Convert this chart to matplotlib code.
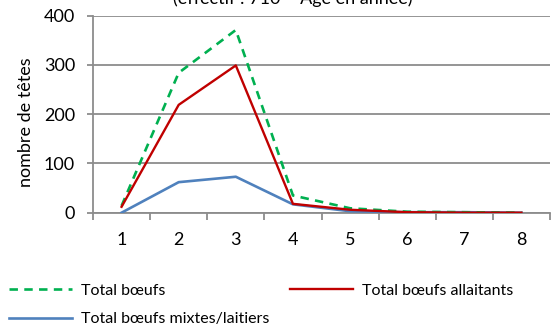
import matplotlib.pyplot as plt
from matplotlib.ticker import FixedLocator, NullFormatter

plt.rcParams['font.family'] = ['Lato', 'DejaVu Sans']

# age in years, head counts per class
ages = [1, 2, 3, 4, 5, 6, 7, 8]
total_boeufs = [14, 284, 371, 35, 9, 2, 1, 0]
boeufs_allaitants = [12, 219, 299, 18, 6, 1, 0, 0]
boeufs_mixtes = [0, 62, 73, 17, 3, 1, 1, 0]
y_ticks = [0, 100, 200, 300, 400]

grey = '#8c8c8c'

fig = plt.figure(figsize=(5.52, 3.27), dpi=100)
ax = fig.add_axes([93 / 552, 1 - 212.7 / 327, 457 / 552, 197 / 327])

ax.plot(ages, total_boeufs, color='#00b050', lw=1.9, dashes=(3.2, 2.4),
        label='Total bœufs', zorder=3)
ax.plot(ages, boeufs_mixtes, color='#4f81bd', lw=1.9,
        label='Total bœufs mixtes/laitiers', zorder=2)
ax.plot(ages, boeufs_allaitants, color='#c00000', lw=1.7,
        label='Total bœufs allaitants', zorder=4)

ax.set_xlim(0.5, 8.5)
ax.set_ylim(0, 400)
ax.set_yticks(y_ticks)
ax.set_xticks(ages)
ax.xaxis.set_minor_locator(FixedLocator([a + 0.5 for a in [0] + ages]))
ax.xaxis.set_minor_formatter(NullFormatter())
ax.tick_params(axis='x', which='major', length=0, pad=14, labelsize=13)
ax.tick_params(axis='x', which='minor', length=5, width=1.3, color=grey)
ax.tick_params(axis='y', length=4, width=1.3, color=grey, pad=9, labelsize=13)

ax.grid(axis='y', color=grey, lw=1.3)
ax.set_axisbelow(True)
for side in ['top', 'right']:
    ax.spines[side].set_visible(False)
for side in ['left', 'bottom']:
    ax.spines[side].set_color(grey)
    ax.spines[side].set_linewidth(1.3)
ax.spines['bottom'].set_zorder(1)

fig.text(26 / 552, 1 - 122 / 327, 'nombre de têtes', rotation=90,
         ha='center', va='center', fontsize=13)
fig.text(293 / 552, 1 - 7 / 327, '(effectif : 710 – Âge en année)',
         ha='center', va='bottom', fontsize=13)

handles, labels = ax.get_legend_handles_labels()
fig.legend(handles, labels, ncol=2, loc='upper left',
           bbox_to_anchor=(3 / 552, 1 - 277 / 327), frameon=False,
           fontsize=11.5, handlelength=3.9, handletextpad=0.6,
           columnspacing=1.3, labelspacing=0.9, borderaxespad=0)

fig.savefig('out.png', dpi=100)
